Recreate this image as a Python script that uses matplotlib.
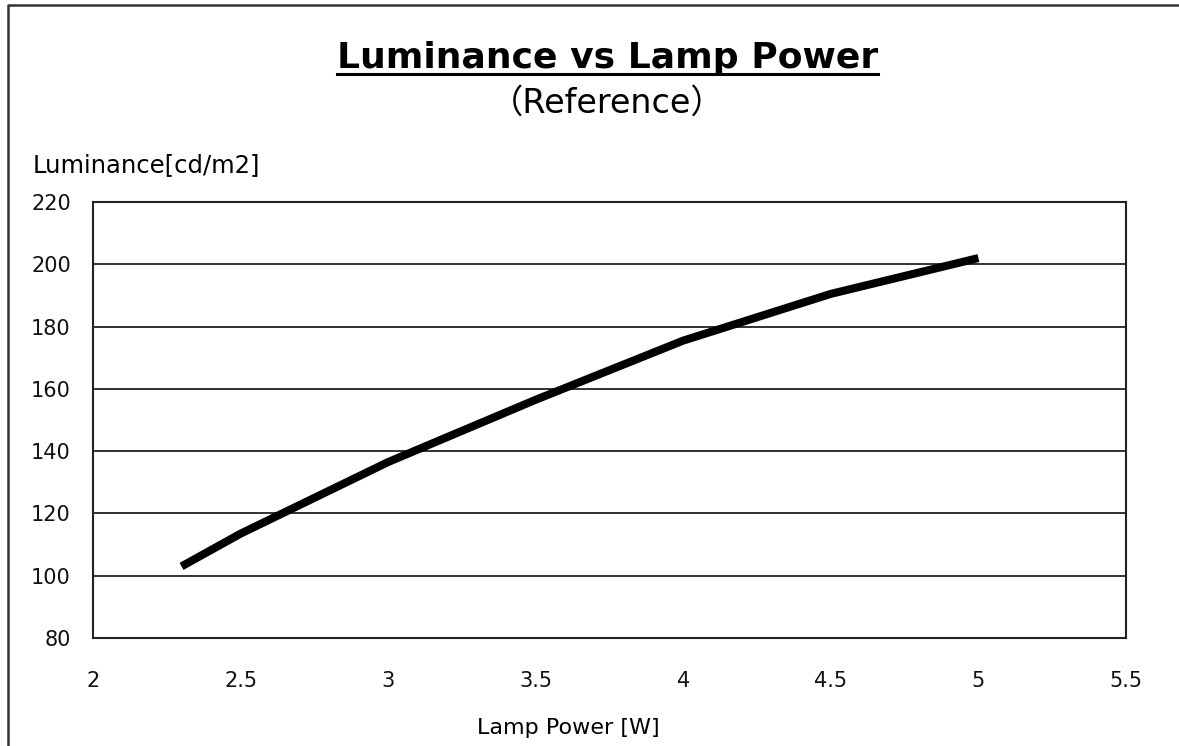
import matplotlib
matplotlib.use('Agg')
import matplotlib.pyplot as plt
from matplotlib.lines import Line2D

# データ
power = [2.3, 2.5, 3.0, 3.5, 4.0, 4.5, 5.0]
luminance = [103, 113.5, 136.5, 156.5, 175.5, 190.5, 202]
xticks = [2, 2.5, 3, 3.5, 4, 4.5, 5, 5.5]
yticks = [80, 100, 120, 140, 160, 180, 200, 220]

plt.rcParams['font.family'] = ['DejaVu Sans', 'Noto Sans CJK JP']

W, H = 1179, 746
fig = plt.figure(figsize=(W / 100, H / 100), dpi=100)
ax = fig.add_axes([93 / W, 1 - 638 / H, (1126 - 93) / W, (638 - 202) / H])

ax.plot(power, luminance, color='black', linewidth=5.8, solid_capstyle='butt',
        solid_joinstyle='round')

ax.set_xlim(2, 5.5)
ax.set_ylim(80, 220)
ax.set_xticks(xticks)
ax.set_xticklabels([f'{t:g}' for t in xticks])
ax.set_yticks(yticks)
ax.grid(axis='y', color='#222222', linewidth=1.3)
ax.set_axisbelow(True)
ax.tick_params(length=0, labelsize=15, colors='#111111')
ax.tick_params(axis='x', pad=24)
ax.tick_params(axis='y', pad=16)
for s in ax.spines.values():
    s.set_color('#222222')
    s.set_linewidth(1.5)

# タイトル
t1 = fig.text(0.515, 1 - 68 / H, 'Luminance vs Lamp Power', ha='center',
              va='baseline', fontsize=26, fontweight='bold')
fig.text(0.515, 1 - 113 / H, '（Reference）', ha='center', va='baseline',
         fontsize=24)
fig.text(33 / W, 1 - 172 / H, 'Luminance[cd/m2]', ha='left', va='baseline',
         fontsize=17.5)
fig.text(0.482, 1 - 734 / H, 'Lamp Power [W]', ha='center', va='baseline',
         fontsize=16)

# 下線
fig.canvas.draw()
bb = t1.get_window_extent()
uy = 1 - 74 / H
fig.add_artist(Line2D([bb.x0 / W, bb.x1 / W], [uy, uy], color='black',
                      linewidth=2.2, transform=fig.transFigure))

# 外枠
fig.add_artist(Line2D([8 / W, 8 / W, 1], [0, 1 - 5 / H, 1 - 5 / H],
                      color='#333333', linewidth=1.8, transform=fig.transFigure))

fig.savefig('out.png', dpi=100)
